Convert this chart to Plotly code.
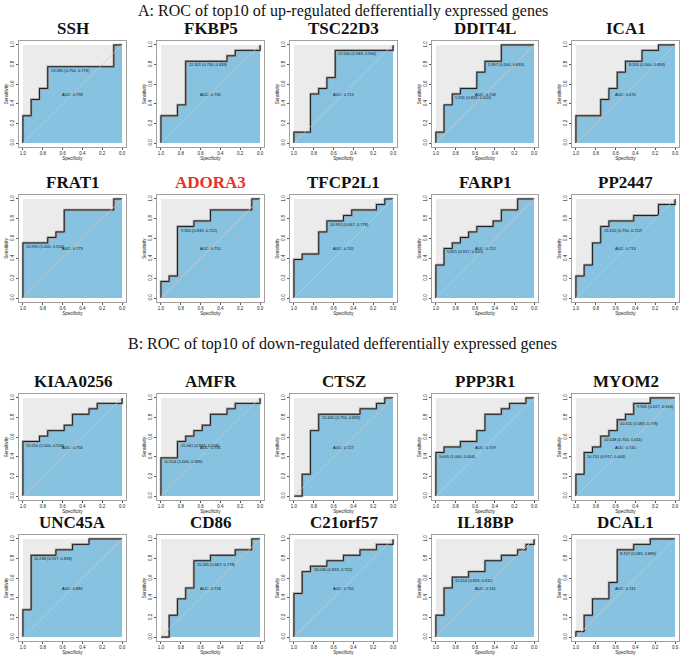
import plotly.graph_objects as go

# ---------------- data ----------------
genes_up = ["SSH", "FKBP5", "TSC22D3", "DDIT4L", "ICA1",
            "FRAT1", "ADORA3", "TFCP2L1", "FARP1", "PP2447"]
genes_down = ["KIAA0256", "AMFR", "CTSZ", "PPP3R1", "MYOM2",
              "UNC45A", "CD86", "C21orf57", "IL18BP", "DCAL1"]
genes = genes_up + genes_down

# step corners (specificity, sensitivity)
spec = {
    "SSH": [1, 1, 0.917, 0.833, 0.75, 0.083, 0],
    "FKBP5": [1, 1, 0.833, 0.75, 0.333, 0.25, 0, 0],
    "TSC22D3": [1, 1, 0.833, 0.75, 0.667, 0.583, 0, 0],
    "DDIT4L": [1, 1, 0.917, 0.833, 0.75, 0.583, 0.5, 0.333, 0],
    "ICA1": [1, 1, 0.75, 0.667, 0.583, 0.5, 0.333, 0.167, 0],
    "FRAT1": [1, 1, 0.75, 0.667, 0.583, 0.083, 0],
    "ADORA3": [1, 1, 0.917, 0.833, 0.667, 0.5, 0.083, 0],
    "TFCP2L1": [1, 1, 0.917, 0.75, 0.667, 0.5, 0.417, 0.167, 0.083, 0],
    "FARP1": [1, 1, 0.917, 0.833, 0.75, 0.667, 0.583, 0.417, 0.333, 0.167, 0],
    "PP2447": [1, 1, 0.917, 0.833, 0.75, 0.667, 0.417, 0.167, 0, 0],
    "KIAA0256": [1, 1, 0.833, 0.75, 0.583, 0.5, 0.333, 0.25, 0, 0],
    "AMFR": [1, 1, 0.833, 0.75, 0.667, 0.583, 0.5, 0.333, 0.25, 0, 0],
    "CTSZ": [1, 1, 0.917, 0.833, 0.75, 0.333, 0.167, 0.083, 0],
    "PPP3R1": [1, 1, 0.917, 0.75, 0.583, 0.5, 0.333, 0.25, 0.083, 0],
    "MYOM2": [1, 1, 0.917, 0.833, 0.75, 0.667, 0.583, 0.5, 0.417, 0.25, 0],
    "UNC45A": [1, 1, 0.917, 0.667, 0.5, 0.333, 0],
    "CD86": [1, 1, 0.917, 0.833, 0.75, 0.667, 0.5, 0.25, 0.083, 0],
    "C21orf57": [1, 1, 0.917, 0.833, 0.667, 0.5, 0.333, 0.167, 0, 0],
    "IL18BP": [1, 1, 0.917, 0.833, 0.667, 0.5, 0.333, 0.167, 0.083, 0, 0],
    "DCAL1": [1, 1, 0.917, 0.833, 0.667, 0.583, 0.417, 0.25, 0],
}
sens = {
    "SSH": [0, 0.278, 0.444, 0.556, 0.778, 1.0, 1.0],
    "FKBP5": [0, 0.278, 0.389, 0.833, 0.889, 0.944, 0.944, 1.0],
    "TSC22D3": [0, 0.111, 0.5, 0.556, 0.667, 0.944, 0.944, 1.0],
    "DDIT4L": [0, 0.111, 0.389, 0.5, 0.556, 0.722, 0.833, 1.0, 1.0],
    "ICA1": [0, 0.278, 0.444, 0.556, 0.722, 0.833, 0.944, 1.0, 1.0],
    "FRAT1": [0, 0.556, 0.611, 0.667, 0.889, 1.0, 1.0],
    "ADORA3": [0, 0.167, 0.222, 0.722, 0.778, 0.889, 1.0, 1.0],
    "TFCP2L1": [0, 0.389, 0.444, 0.667, 0.778, 0.833, 0.889, 0.944, 1.0, 1.0],
    "FARP1": [0, 0.333, 0.5, 0.556, 0.611, 0.667, 0.722, 0.778, 0.889, 1.0, 1.0],
    "PP2447": [0, 0.222, 0.333, 0.556, 0.722, 0.778, 0.833, 0.944, 0.944, 1.0],
    "KIAA0256": [0, 0.556, 0.611, 0.667, 0.722, 0.833, 0.889, 0.944, 0.944, 1.0],
    "AMFR": [0, 0.389, 0.556, 0.611, 0.667, 0.722, 0.833, 0.889, 0.944, 0.944, 1.0],
    "CTSZ": [0, 0, 0.222, 0.667, 0.833, 0.889, 0.944, 1.0, 1.0],
    "PPP3R1": [0, 0.444, 0.5, 0.556, 0.667, 0.833, 0.889, 0.944, 1.0, 1.0],
    "MYOM2": [0, 0.222, 0.444, 0.5, 0.611, 0.667, 0.778, 0.833, 0.944, 1.0, 1.0],
    "UNC45A": [0, 0.278, 0.833, 0.889, 0.944, 1.0, 1.0],
    "CD86": [0, 0, 0.222, 0.389, 0.5, 0.778, 0.833, 0.889, 1.0, 1.0],
    "C21orf57": [0, 0.444, 0.667, 0.722, 0.778, 0.833, 0.889, 0.944, 0.944, 1.0],
    "IL18BP": [0, 0.222, 0.5, 0.611, 0.667, 0.778, 0.833, 0.889, 0.944, 0.944, 1.0],
    "DCAL1": [0, 0.056, 0.222, 0.389, 0.556, 0.889, 0.944, 1.0, 1.0],
}
auc = {"SSH": "0.798", "FKBP5": "0.736", "TSC22D3": "0.713", "DDIT4L": "0.708",
       "ICA1": "0.676", "FRAT1": "0.773", "ADORA3": "0.755", "TFCP2L1": "0.745",
       "FARP1": "0.722", "PP2447": "0.713", "KIAA0256": "0.756", "AMFR": "0.731",
       "CTSZ": "0.727", "PPP3R1": "0.759", "MYOM2": "0.745", "UNC45A": "0.880",
       "CD86": "0.718", "C21orf57": "0.750", "IL18BP": "0.741", "DCAL1": "0.741"}
# best thresholds: (threshold, specificity, sensitivity)
thres = {
    "SSH": [("13.585", 0.750, 0.778)],
    "FKBP5": [("11.351", 0.750, 0.833)],
    "TSC22D3": [("12.500", 0.583, 0.944)],
    "DDIT4L": [("5.931", 0.833, 0.500), ("5.397", 0.500, 0.833)],
    "ICA1": [("8.205", 0.500, 0.833)],
    "FRAT1": [("10.992", 1.000, 0.556)],
    "ADORA3": [("9.350", 0.833, 0.722)],
    "TFCP2L1": [("10.951", 0.667, 0.778)],
    "FARP1": [("5.821", 0.917, 0.500)],
    "PP2447": [("13.152", 0.750, 0.722)],
    "KIAA0256": [("15.550", 1.000, 0.556)],
    "AMFR": [("15.061", 0.833, 0.556), ("10.514", 1.000, 0.389)],
    "CTSZ": [("12.405", 0.750, 0.833)],
    "PPP3R1": [("9.005", 1.000, 0.444)],
    "MYOM2": [("9.945", 0.417, 0.944), ("10.511", 0.583, 0.778),
              ("10.548", 0.750, 0.611), ("10.751", 0.917, 0.444)],
    "UNC45A": [("11.238", 0.917, 0.833)],
    "CD86": [("11.565", 0.667, 0.778)],
    "C21orf57": [("16.040", 0.833, 0.722)],
    "IL18BP": [("11.554", 0.833, 0.611)],
    "DCAL1": [("8.707", 0.583, 0.889)],
}
tick_vals = [0.0, 0.2, 0.4, 0.6, 0.8, 1.0]
tick_text = ["0.0", "0.2", "0.4", "0.6", "0.8", "1.0"]

# ---------------- layout (page pixels) ----------------
FW, FH = 685, 669
col_x = [(19, 126), (157, 264), (290, 397), (432, 538), (572, 679)]
row_y = [(41, 147), (195, 302), (394, 500), (535, 641)]


def px(x):
    return x / FW


def py(y):
    return 1 - y / FH


BLUE = "#87C3E1"
GREY = "#EBEBEB"
TF = dict(size=4.5, family="Liberation Sans", color="#222")
LF = dict(size=4, family="Liberation Sans", color="#111")

fig = go.Figure()
layout = dict(width=FW, height=FH, margin=dict(l=0, r=0, t=0, b=0),
              paper_bgcolor="white", plot_bgcolor="white", showlegend=False,
              hovermode=False)
shapes = []
annotations = []

for i, g in enumerate(genes):
    r, c = divmod(i, 5)
    x0, x1 = col_x[c]
    y0, y1 = row_y[r]
    n = i + 1
    xa = "x" if n == 1 else f"x{n}"
    ya = "y" if n == 1 else f"y{n}"
    xk = "xaxis" if n == 1 else f"xaxis{n}"
    yk = "yaxis" if n == 1 else f"yaxis{n}"
    layout[xk] = dict(domain=[px(x0), px(x1)], range=[1.04, -0.04], anchor=ya,
                      tickvals=tick_vals, ticktext=tick_text, ticks="outside",
                      ticklen=2, tickwidth=0.6, tickcolor="#555", tickfont=TF,
                      showgrid=False, zeroline=False, showline=True, mirror=True,
                      linecolor="#a0a0a0", linewidth=0.8,
                      title=dict(text="Specificity", standoff=1, font=TF))
    layout[yk] = dict(domain=[py(y1), py(y0)], range=[-0.04, 1.04], anchor=xa,
                      tickvals=tick_vals, ticktext=tick_text, ticks="outside",
                      ticklen=2, tickwidth=0.6, tickcolor="#555", tickangle=-90,
                      tickfont=TF,
                      showgrid=False, zeroline=False, showline=True, mirror=True,
                      linecolor="#a0a0a0", linewidth=0.8,
                      title=dict(text="Sensitivity", standoff=1, font=TF))
    # grey background square (data region 0..1)
    shapes.append(dict(type="rect", xref=xa, yref=ya, x0=0, x1=1, y0=0, y1=1,
                       fillcolor=GREY, line=dict(width=0), layer="below"))
    # fill under curve
    fig.add_trace(go.Scatter(x=spec[g], y=sens[g], xaxis=xa, yaxis=ya, mode="lines",
                             line=dict(shape="hv", width=0, color=BLUE),
                             fill="tozeroy", fillcolor=BLUE, hoverinfo="skip"))
    # chance diagonal
    shapes.append(dict(type="line", xref=xa, yref=ya, x0=1, y0=0, x1=0, y1=1,
                       line=dict(color="#cfc8c8", width=0.7), layer="above"))
    # curve halo + curve
    fig.add_trace(go.Scatter(x=spec[g], y=sens[g], xaxis=xa, yaxis=ya, mode="lines",
                             line=dict(shape="hv", width=2.4, color="#9c9c9c"),
                             hoverinfo="skip"))
    fig.add_trace(go.Scatter(x=spec[g], y=sens[g], xaxis=xa, yaxis=ya, mode="lines",
                             line=dict(shape="hv", width=1.0, color="#222222"),
                             hoverinfo="skip"))
    # threshold labels
    for t, sp, se in thres[g]:
        annotations.append(dict(x=sp, y=se, xref=xa, yref=ya,
                                text=f"{t} ({sp:.3f}, {se:.3f})", showarrow=False,
                                xanchor="left", yanchor="top", xshift=1, yshift=1,
                                font=LF))
    annotations.append(dict(x=0.5, y=0.5, xref=xa, yref=ya, text=f"AUC: {auc[g]}",
                            showarrow=False, xanchor="center", yanchor="middle",
                            font=LF))
    # gene title
    annotations.append(dict(x=px((x0 + x1) / 2), y=py(y0 - 2), xref="paper",
                            yref="paper", text=f"<b>{g}</b>", showarrow=False,
                            xanchor="center", yanchor="bottom", borderpad=0,
                            font=dict(size=17, family="Liberation Serif",
                                      color="#e8312a" if g == "ADORA3" else "#111")))

annotations.append(dict(x=px(342.5), y=py(1), xref="paper", yref="paper",
                        text="A: ROC of top10 of up-regulated defferentially expressed genes",
                        showarrow=False, xanchor="center", yanchor="top", borderpad=0,
                        font=dict(size=16, family="Liberation Serif", color="#111")))
annotations.append(dict(x=px(342.5), y=py(334), xref="paper", yref="paper",
                        text="B: ROC of top10 of down-regulated defferentially expressed genes",
                        showarrow=False, xanchor="center", yanchor="top", borderpad=0,
                        font=dict(size=16, family="Liberation Serif", color="#111")))

layout["shapes"] = shapes
layout["annotations"] = annotations
fig.update_layout(**layout)
fig.write_html("out.html", config={"displayModeBar": False},
               post_script="document.body.style.margin='0';document.body.style.overflow='hidden';")
